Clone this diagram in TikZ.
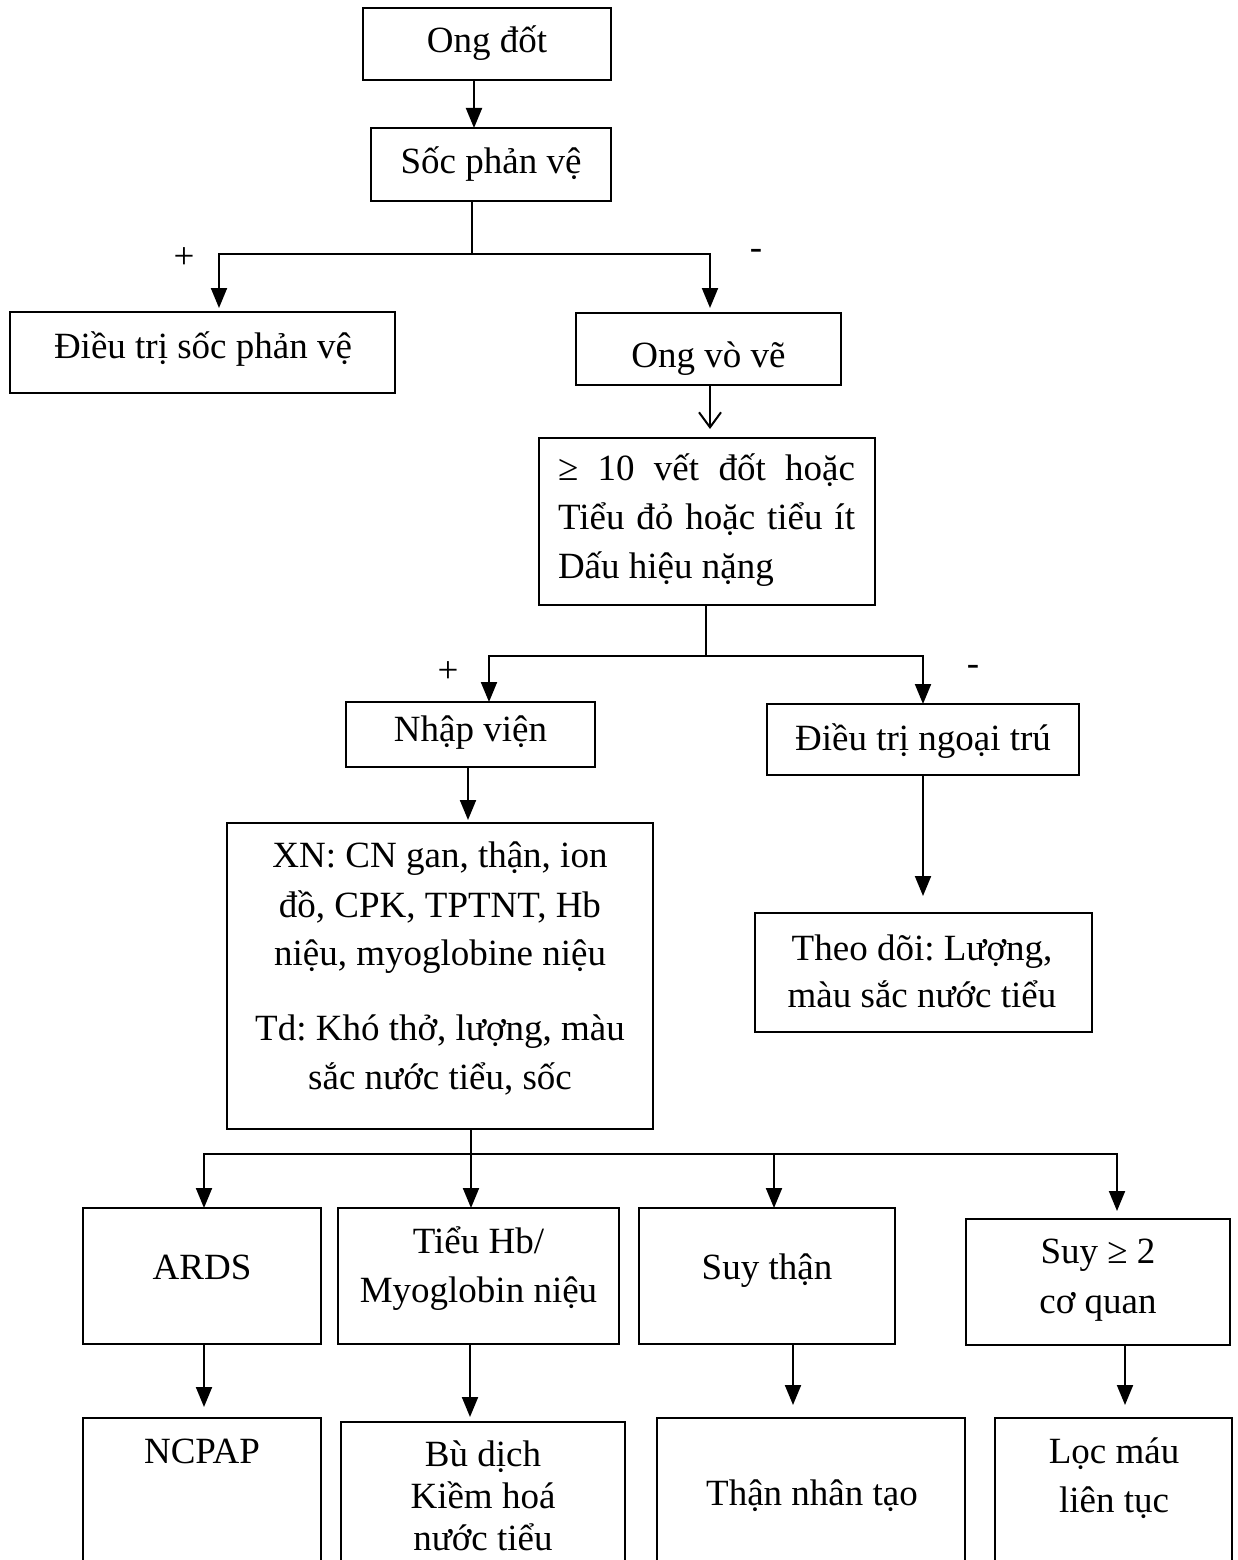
\documentclass[tikz,border=0pt]{standalone}
\usepackage{fontspec}
\setmainfont{Liberation Serif}
\usetikzlibrary{arrows.meta}
\tikzset{
  bx/.style={draw, line width=1.8pt, inner sep=0pt, outer sep=0pt},
  tx/.style={font=\fontsize{37pt}{49pt}\selectfont\frenchspacing, inner sep=0pt, outer sep=0pt, anchor=base},
  ln/.style={line width=2pt},
  arr/.style={line width=2pt, -{Triangle[width=16pt,length=20pt]}},
  oarr/.style={line width=2pt, -{Straight Barb[width=22pt,length=15pt]}},
}
\begin{document}
\begin{tikzpicture}[x=1pt,y=-1pt]
\clip (0,0) rectangle (1237,1560);
\fill[white] (0,0) rectangle (1237,1560);

% boxes
\node[bx, minimum width=248, minimum height=72] (ong) at (487,44) {};
\node[bx, minimum width=240, minimum height=73] (soc) at (491,164.5) {};
\node[bx, minimum width=385, minimum height=81] (dtsoc) at (202.5,352.5) {};
\node[bx, minimum width=265, minimum height=72] (ongvv) at (708.5,349) {};
\node[bx, minimum width=336, minimum height=167] (ge10) at (707,521.5) {};
\node[bx, minimum width=249, minimum height=65] (nhap) at (470.5,734.5) {};
\node[bx, minimum width=312, minimum height=71] (ngoai) at (923,739.5) {};
\node[bx, minimum width=426, minimum height=306] (xn) at (440,976) {};
\node[bx, minimum width=337, minimum height=119] (theo) at (923.5,972.5) {};
\node[bx, minimum width=238, minimum height=136] (ards) at (202,1276) {};
\node[bx, minimum width=281, minimum height=136] (hb) at (478.5,1276) {};
\node[bx, minimum width=256, minimum height=136] (suyth) at (767,1276) {};
\node[bx, minimum width=264, minimum height=126] (suy2) at (1098,1282) {};
\node[bx, minimum width=238, minimum height=182] (ncpap) at (202,1509) {};
\node[bx, minimum width=284, minimum height=178] (bud) at (483,1511) {};
\node[bx, minimum width=308, minimum height=182] (than) at (811,1509) {};
\node[bx, minimum width=237, minimum height=182] (loc) at (1113.5,1509) {};

% texts
\node[tx] (tong) at (487,53) {Ong đốt};
\node[tx] (tsoc) at (491,173) {Sốc phản vệ};
\node[tx] (tdtsoc) at (203,358) {Điều trị sốc phản vệ};
\node[tx] (tongvv) at (708.5,367) {Ong vò vẽ};
\node[tx, anchor=base west] (tge1) at (558,480) {\hbox to 297pt{≥\hfill 10\hfill vết\hfill đốt\hfill hoặc}};
\node[tx, anchor=base west] (tge2) at (558,529) {\hbox to 297pt{Tiểu\hfill đỏ\hfill hoặc\hfill tiểu\hfill ít}};
\node[tx, anchor=base west] (tge3) at (558,578) {Dấu hiệu nặng};
\node[tx] (tnhap) at (470.5,741) {Nhập viện};
\node[tx] (tngoai) at (923,750) {Điều trị ngoại trú};
\node[tx] (txn1) at (440,867) {XN: CN gan, thận, ion};
\node[tx] (txn2) at (440,917) {đồ, CPK, TPTNT, Hb};
\node[tx] (txn3) at (440,965) {niệu, myoglobine niệu};
\node[tx] (txn4) at (440,1040) {Td: Khó thở, lượng, màu};
\node[tx] (txn5) at (440,1089) {sắc nước tiểu, sốc};
\node[tx] (ttheo1) at (922,960) {Theo dõi: Lượng,};
\node[tx] (ttheo2) at (922,1007) {màu sắc nước tiểu};
\node[tx] (tards) at (202,1279) {ARDS};
\node[tx] (thb1) at (478.5,1253) {Tiểu Hb/};
\node[tx] (thb2) at (478.5,1302) {Myoglobin niệu};
\node[tx] (tsuyth) at (767,1279) {Suy thận};
\node[tx] (tsuy21) at (1098,1263) {Suy ≥ 2};
\node[tx] (tsuy22) at (1098,1313) {cơ quan};
\node[tx] (tncpap) at (202,1463) {NCPAP};
\node[tx] (tbud1) at (483,1466) {Bù dịch};
\node[tx] (tbud2) at (483,1508) {Kiềm hoá};
\node[tx] (tbud3) at (483,1550) {nước tiểu};
\node[tx] (tthan) at (812,1505) {Thận nhân tạo};
\node[tx] (tloc1) at (1114,1463) {Lọc máu};
\node[tx] (tloc2) at (1114,1512) {liên tục};

% branch labels
\node[tx] (lp1) at (184,268) {+};
\node[tx] (lm1) at (756,259) {-};
\node[tx] (lp2) at (448,682) {+};
\node[tx] (lm2) at (973,675) {-};

% column coordinates
\coordinate (c1) at (474,0);
\coordinate (c2) at (710,0);
\coordinate (c3) at (468,0);
\coordinate (c4) at (923,0);
\coordinate (c5) at (204,0);
\coordinate (c6) at (470,0);
\coordinate (c7) at (793,0);
\coordinate (c8) at (1125,0);
\coordinate (j1) at (472,254);
\coordinate (b1L) at (219,254);
\coordinate (b1R) at (710,254);
\coordinate (j2) at (706,656);
\coordinate (b2L) at (489,656);
\coordinate (b2R) at (923,656);
\coordinate (j3) at (471,1154);
\coordinate (b3a) at (204,1154);
\coordinate (b3c) at (774,1154);
\coordinate (b3d) at (1117,1154);

% connectors
\draw[arr] (ong.south -| c1) -- (soc.north -| c1);
\draw[ln] (soc.south -| j1) -- (j1);
\draw[arr] (j1) -- (b1L) -- ([yshift=4pt]dtsoc.north -| b1L);
\draw[arr] (j1) -- (b1R) -- ([yshift=5pt]ongvv.north -| b1R);
\draw[oarr] (ongvv.south -| c2) -- ([yshift=9pt]ge10.north -| c2);
\draw[ln] (ge10.south -| j2) -- (j2);
\draw[arr] (j2) -- (b2L) -- (nhap.north -| b2L);
\draw[arr] (j2) -- (b2R) -- (ngoai.north -| b2R);
\draw[arr] (nhap.south -| c3) -- ([yshift=3pt]xn.north -| c3);
\draw[arr] (ngoai.south -| c4) -- ([yshift=17pt]theo.north -| c4);
\draw[ln] (xn.south -| j3) -- (j3);
\draw[arr] (j3) -- (hb.north -| j3);
\draw[arr] (j3) -- (b3a) -- (ards.north -| b3a);
\draw[arr] (j3) -- (b3c) -- (suyth.north -| b3c);
\draw[arr] (b3c) -- (b3d) -- ([yshift=8pt]suy2.north -| b3d);
\draw[arr] (ards.south -| c5) -- ([yshift=11pt]ncpap.north -| c5);
\draw[arr] (hb.south -| c6) -- ([yshift=5pt]bud.north -| c6);
\draw[arr] (suyth.south -| c7) -- ([yshift=13pt]than.north -| c7);
\draw[arr] (suy2.south -| c8) -- ([yshift=13pt]loc.north -| c8);
\end{tikzpicture}
\end{document}
